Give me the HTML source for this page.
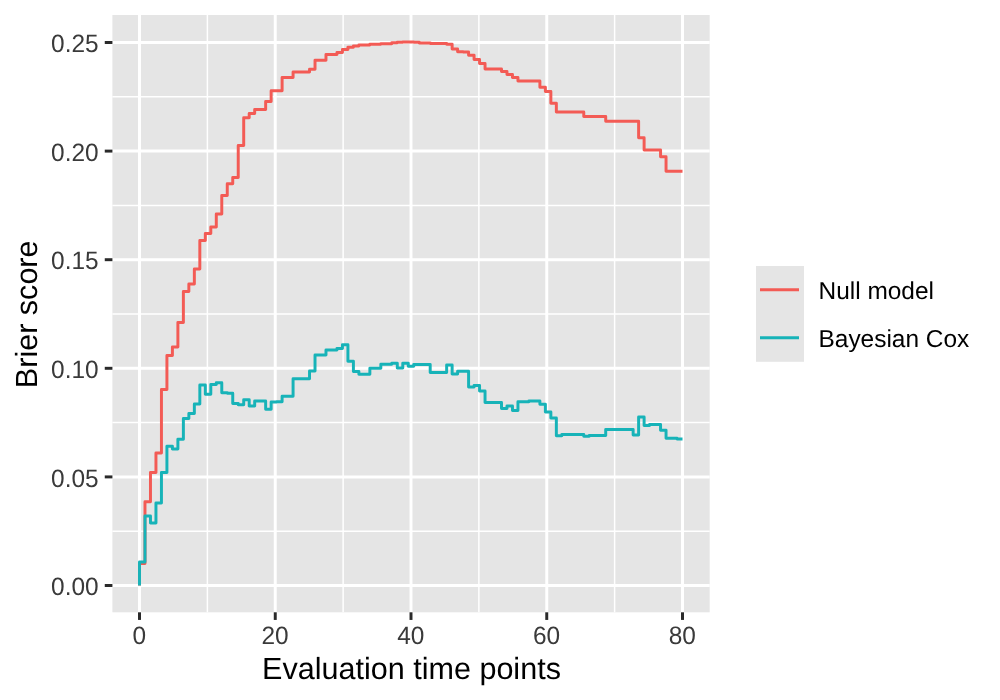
<!DOCTYPE html>
<html><head><meta charset="utf-8"><style>
html,body{margin:0;padding:0;background:#FFFFFF;}
body{width:1000px;height:700px;overflow:hidden;}
svg{display:block;will-change:transform;text-rendering:geometricPrecision;font-family:"Liberation Sans", sans-serif;}
</style></head><body>
<svg width="1000" height="700" viewBox="0 0 1000 700">
<rect x="0" y="0" width="1000" height="700" fill="#FFFFFF"/>
<rect x="112.40" y="15.00" width="597.30" height="597.30" fill="#E5E5E5"/>
<line x1="207.38" y1="15.00" x2="207.38" y2="612.30" stroke="#FFFFFF" stroke-width="1.48"/>
<line x1="343.12" y1="15.00" x2="343.12" y2="612.30" stroke="#FFFFFF" stroke-width="1.48"/>
<line x1="478.88" y1="15.00" x2="478.88" y2="612.30" stroke="#FFFFFF" stroke-width="1.48"/>
<line x1="614.62" y1="15.00" x2="614.62" y2="612.30" stroke="#FFFFFF" stroke-width="1.48"/>
<line x1="112.40" y1="531.20" x2="709.70" y2="531.20" stroke="#FFFFFF" stroke-width="1.48"/>
<line x1="112.40" y1="422.60" x2="709.70" y2="422.60" stroke="#FFFFFF" stroke-width="1.48"/>
<line x1="112.40" y1="314.00" x2="709.70" y2="314.00" stroke="#FFFFFF" stroke-width="1.48"/>
<line x1="112.40" y1="205.40" x2="709.70" y2="205.40" stroke="#FFFFFF" stroke-width="1.48"/>
<line x1="112.40" y1="96.80" x2="709.70" y2="96.80" stroke="#FFFFFF" stroke-width="1.48"/>
<line x1="139.50" y1="15.00" x2="139.50" y2="612.30" stroke="#FFFFFF" stroke-width="2.96"/>
<line x1="275.25" y1="15.00" x2="275.25" y2="612.30" stroke="#FFFFFF" stroke-width="2.96"/>
<line x1="411.00" y1="15.00" x2="411.00" y2="612.30" stroke="#FFFFFF" stroke-width="2.96"/>
<line x1="546.75" y1="15.00" x2="546.75" y2="612.30" stroke="#FFFFFF" stroke-width="2.96"/>
<line x1="682.50" y1="15.00" x2="682.50" y2="612.30" stroke="#FFFFFF" stroke-width="2.96"/>
<line x1="112.40" y1="585.50" x2="709.70" y2="585.50" stroke="#FFFFFF" stroke-width="2.96"/>
<line x1="112.40" y1="476.90" x2="709.70" y2="476.90" stroke="#FFFFFF" stroke-width="2.96"/>
<line x1="112.40" y1="368.30" x2="709.70" y2="368.30" stroke="#FFFFFF" stroke-width="2.96"/>
<line x1="112.40" y1="259.70" x2="709.70" y2="259.70" stroke="#FFFFFF" stroke-width="2.96"/>
<line x1="112.40" y1="151.10" x2="709.70" y2="151.10" stroke="#FFFFFF" stroke-width="2.96"/>
<line x1="112.40" y1="42.50" x2="709.70" y2="42.50" stroke="#FFFFFF" stroke-width="2.96"/>
<path d="M139.50 585.50V563.50H144.98V501.70H150.47V472.40H155.95V453.10H161.44V389.60H166.92V355.40H172.41V347.10H177.89V322.60H183.38V291.40H188.86V284.00H194.35V269.10H199.83V240.40H205.32V233.50H210.80V227.10H216.29V214.10H221.77V195.40H227.26V183.80H232.74V177.60H238.23V145.60H243.71V117.70H249.20V113.60H254.68V109.40H260.17H265.65V101.60H271.14V90.80H276.62H282.11V77.50H287.59H293.08V72.10H298.56H304.05H309.53V69.30H315.02V60.20H320.50H325.98V54.40H331.47H336.95V52.50H342.44V49.60H347.92V47.20H353.41V46.10H358.89V44.90H364.38H369.86V44.30H375.35H380.83V43.70H386.32H391.80V42.80H397.29V42.30H402.77V42.10H408.26H413.74V42.20H419.23V43.10H424.71H430.20V43.40H435.68H441.17H446.65V44.30H452.14V49.10H457.62V51.80H463.11V51.90H468.59V55.30H474.08V59.40H479.56V63.60H485.05V69.00H490.53H496.02H501.50V71.40H506.98V74.50H512.47V77.50H517.95V80.90H523.44H528.92H534.41H539.89V87.20H545.38V91.40H550.86V103.30H556.35V111.90H561.83H567.32H572.80H578.29H583.77V116.40H589.26H594.74H600.23H605.71V121.30H611.20H616.68H622.17H627.65H633.14H638.62V137.80H644.11V150.00H649.59H655.08H660.56V156.80H666.05V171.30H671.53H677.02H682.50" fill="none" stroke="#F35B55" stroke-width="2.96" stroke-linejoin="round" stroke-linecap="butt"/>
<path d="M139.50 585.50V562.10H144.98V516.00H150.47V523.00H155.95V502.90H161.44V472.60H166.92V446.30H172.41V449.10H177.89V439.20H183.38V418.60H188.86V413.40H194.35V404.10H199.83V385.00H205.32V394.30H210.80V384.40H216.29V382.70H221.77V392.80H227.26V393.30H232.74V403.60H238.23V404.80H243.71V399.70H249.20V405.90H254.68V401.10H260.17H265.65V409.20H271.14V402.00H276.62V401.80H282.11V396.30H287.59H293.08V378.80H298.56H304.05H309.53V371.10H315.02V355.10H320.50H325.98V350.00H331.47H336.95V348.50H342.44V344.80H347.92V361.30H353.41V371.50H358.89V374.20H364.38H369.86V368.20H375.35H380.83V364.30H386.32H391.80V363.30H397.29V368.00H402.77V363.20H408.26V366.20H413.74V364.40H419.23H424.71H430.20V372.50H435.68H441.17H446.65V364.90H452.14V374.00H457.62V371.30H463.11H468.59V387.10H474.08V385.40H479.56V391.00H485.05V402.40H490.53H496.02H501.50V408.40H506.98V406.00H512.47V410.50H517.95V401.80H523.44H528.92V401.10H534.41H539.89V404.30H545.38V412.10H550.86V417.90H556.35V435.70H561.83V434.60H567.32H572.80H578.29H583.77V436.20H589.26V435.60H594.74H600.23H605.71V429.60H611.20H616.68H622.17H627.65H633.14V435.00H638.62V417.00H644.11V425.40H649.59V424.50H655.08H660.56V430.20H666.05V438.30H671.53H677.02V438.90H682.50" fill="none" stroke="#17B3B8" stroke-width="2.96" stroke-linejoin="round" stroke-linecap="butt"/>
<line x1="104.76" y1="585.50" x2="112.40" y2="585.50" stroke="#2A2A2A" stroke-width="2.96"/>
<line x1="104.76" y1="476.90" x2="112.40" y2="476.90" stroke="#2A2A2A" stroke-width="2.96"/>
<line x1="104.76" y1="368.30" x2="112.40" y2="368.30" stroke="#2A2A2A" stroke-width="2.96"/>
<line x1="104.76" y1="259.70" x2="112.40" y2="259.70" stroke="#2A2A2A" stroke-width="2.96"/>
<line x1="104.76" y1="151.10" x2="112.40" y2="151.10" stroke="#2A2A2A" stroke-width="2.96"/>
<line x1="104.76" y1="42.50" x2="112.40" y2="42.50" stroke="#2A2A2A" stroke-width="2.96"/>
<line x1="139.50" y1="612.30" x2="139.50" y2="619.94" stroke="#2A2A2A" stroke-width="2.96"/>
<line x1="275.25" y1="612.30" x2="275.25" y2="619.94" stroke="#2A2A2A" stroke-width="2.96"/>
<line x1="411.00" y1="612.30" x2="411.00" y2="619.94" stroke="#2A2A2A" stroke-width="2.96"/>
<line x1="546.75" y1="612.30" x2="546.75" y2="619.94" stroke="#2A2A2A" stroke-width="2.96"/>
<line x1="682.50" y1="612.30" x2="682.50" y2="619.94" stroke="#2A2A2A" stroke-width="2.96"/>
<text transform="translate(98.60 595.10) scale(1 1.03)" text-anchor="end" font-size="24.44" fill="#3A3A3A">0.00</text>
<text transform="translate(98.60 486.50) scale(1 1.03)" text-anchor="end" font-size="24.44" fill="#3A3A3A">0.05</text>
<text transform="translate(98.60 377.90) scale(1 1.03)" text-anchor="end" font-size="24.44" fill="#3A3A3A">0.10</text>
<text transform="translate(98.60 269.30) scale(1 1.03)" text-anchor="end" font-size="24.44" fill="#3A3A3A">0.15</text>
<text transform="translate(98.60 160.70) scale(1 1.03)" text-anchor="end" font-size="24.44" fill="#3A3A3A">0.20</text>
<text transform="translate(98.60 52.10) scale(1 1.03)" text-anchor="end" font-size="24.44" fill="#3A3A3A">0.25</text>
<text transform="translate(139.30 644.00) scale(1 1.03)" text-anchor="middle" font-size="24.44" fill="#3A3A3A">0</text>
<text transform="translate(275.05 644.00) scale(1 1.03)" text-anchor="middle" font-size="24.44" fill="#3A3A3A">20</text>
<text transform="translate(410.80 644.00) scale(1 1.03)" text-anchor="middle" font-size="24.44" fill="#3A3A3A">40</text>
<text transform="translate(546.55 644.00) scale(1 1.03)" text-anchor="middle" font-size="24.44" fill="#3A3A3A">60</text>
<text transform="translate(682.30 644.00) scale(1 1.03)" text-anchor="middle" font-size="24.44" fill="#3A3A3A">80</text>
<text x="411.50" y="678.90" text-anchor="middle" font-size="30.56" fill="#000000">Evaluation time points</text>
<text transform="translate(37.05 314.3) rotate(-90)" x="0" y="0" text-anchor="middle" font-size="30.56" fill="#000000">Brier score</text>
<rect x="756" y="266" width="48" height="95.8" fill="#E5E5E5"/>
<line x1="760.0" y1="289.8" x2="799.0" y2="289.8" stroke="#F35B55" stroke-width="2.96"/>
<line x1="760.0" y1="337.8" x2="799.0" y2="337.8" stroke="#17B3B8" stroke-width="2.96"/>
<text x="818.5" y="299.1" font-size="24.44" fill="#000000">Null model</text>
<text x="818.5" y="347.0" font-size="24.44" fill="#000000">Bayesian Cox</text>
</svg>
</body></html>
